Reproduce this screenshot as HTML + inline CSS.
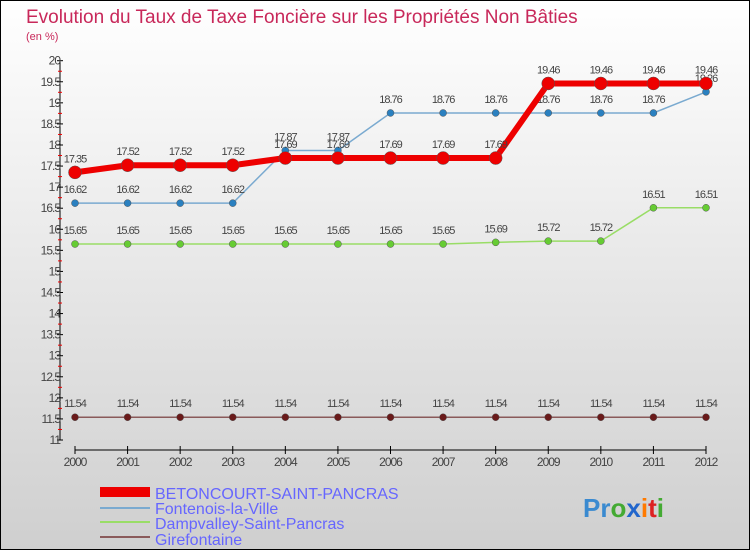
<!DOCTYPE html>
<html><head><meta charset="utf-8"><style>
body{margin:0;width:750px;height:550px;overflow:hidden;font-family:"Liberation Sans",sans-serif}
</style></head><body>
<svg id="chart" width="750" height="550" xmlns="http://www.w3.org/2000/svg" font-family="Liberation Sans, sans-serif">
<defs><linearGradient id="bg" x1="0" y1="0" x2="0" y2="1"><stop offset="0" stop-color="#ffffff"/><stop offset="1" stop-color="#cfcfcf"/></linearGradient></defs>
<rect x="0.5" y="0.5" width="749" height="549" fill="url(#bg)" stroke="#000"/>
<text x="26" y="23" font-size="19" fill="#c8285a">Evolution du Taux de Taxe Foncière sur les Propriétés Non Bâties</text>
<text x="26" y="40" font-size="11" fill="#c8285a">(en %)</text>
<g id="axes"></g><g id="series"></g>
<g>
<rect x="100" y="487" width="50" height="10" fill="#ee0000"/>
<line x1="100" y1="508" x2="150" y2="508" stroke="#7aaad0" stroke-width="2"/>
<line x1="100" y1="522" x2="150" y2="522" stroke="#99dd66" stroke-width="2"/>
<line x1="100" y1="537" x2="150" y2="537" stroke="#8a5a5a" stroke-width="2"/>
<text x="155" y="499" font-size="16" fill="#6666ff">BETONCOURT-SAINT-PANCRAS</text>
<text x="155" y="514" font-size="16" fill="#6666ff">Fontenois-la-Ville</text>
<text x="155" y="529" font-size="16" fill="#6666ff">Dampvalley-Saint-Pancras</text>
<text x="155" y="545" font-size="16" fill="#6666ff">Girefontaine</text>
</g>
<g font-size="26" font-weight="bold">
<text x="583" y="517"><tspan fill="#3a8ad0">Pr</tspan><tspan fill="#44aa33">o</tspan><tspan fill="#2266cc">x</tspan><tspan fill="#ff7a00">i</tspan><tspan fill="#dd2222">t</tspan><tspan fill="#44aa33">i</tspan></text>
</g>
</svg>
<script>
const years=[2000,2001,2002,2003,2004,2005,2006,2007,2008,2009,2010,2011,2012];
const betoncourt=[17.35,17.52,17.52,17.52,17.69,17.69,17.69,17.69,17.69,19.46,19.46,19.46,19.46];
const fontenois=[16.62,16.62,16.62,16.62,17.87,17.87,18.76,18.76,18.76,18.76,18.76,18.76,19.26];
const dampvalley=[15.65,15.65,15.65,15.65,15.65,15.65,15.65,15.65,15.69,15.72,15.72,16.51,16.51];
const girefontaine=[11.54,11.54,11.54,11.54,11.54,11.54,11.54,11.54,11.54,11.54,11.54,11.54,11.54];
const yTicks=[11,11.5,12,12.5,13,13.5,14,14.5,15,15.5,16,16.5,17,17.5,18,18.5,19,19.5,20];
const NS='http://www.w3.org/2000/svg';
const xs=i=>75+i*(706-75)/(years.length-1);
const ys=v=>440-(v-11)*(440-60.7)/9;
function mk(t,a,p){const e=document.createElementNS(NS,t);for(const k in a)e.setAttribute(k,a[k]);p.appendChild(e);return e;}
const ax=document.getElementById('axes');
const yl=mk('line',{x1:60,y1:ys(20),x2:60,y2:ys(11),stroke:'#000'},ax);


yTicks.forEach((v,k)=>{
 mk('line',{x1:57,y1:ys(v),x2:63,y2:ys(v),stroke:'#000'},ax);
 if(k<yTicks.length-1) mk('line',{x1:58,y1:ys(v+0.25),x2:62,y2:ys(v+0.25),stroke:'#e00'},ax);
 const t=mk('text',{x:60,y:ys(v)+4,'text-anchor':'end','font-size':12,fill:'#444','letter-spacing':'-1'},ax);
 
 
 t.textContent=v;
});
const xl=mk('line',{x1:75,y1:450,x2:706,y2:450,stroke:'#000'},ax);


years.forEach((y,i)=>{
 mk('line',{x1:xs(i),y1:446,x2:xs(i),y2:454,stroke:'#000'},ax);
 const t=mk('text',{x:xs(i),y:466,'text-anchor':'middle','font-size':12,fill:'#444','letter-spacing':'-1'},ax);
 
 
 t.textContent=y;
});
const sg=document.getElementById('series');
function series(name,data,color,w,r,dot){
 const g=mk('g',{},sg);
 
 
 mk('polyline',{points:data.map((v,i)=>xs(i)+','+ys(v)).join(' '),fill:'none',stroke:color,'stroke-width':w},g);
 data.forEach((v,i)=>{
  const c=mk('circle',{cx:xs(i),cy:ys(v),r:r,fill:dot,stroke:'#555','stroke-width':0.5},g);
  
  
  const t=mk('text',{x:xs(i),y:ys(v)-10,'text-anchor':'middle','font-size':11,fill:'#444','letter-spacing':'-1'},g);
  
  
  t.textContent=v;
 });
}
series('girefontaine-series',girefontaine,'#8a5a5a',1.5,3.5,'#6a1a1a');
series('dampvalley-series',dampvalley,'#99dd66',1.5,3.5,'#66cc33');
series('fontenois-series',fontenois,'#7aaad0',1.5,3.5,'#2a80c0');
series('betoncourt-series',betoncourt,'#ee0000',6,6.5,'#ee0000');
</script>
</body></html>
